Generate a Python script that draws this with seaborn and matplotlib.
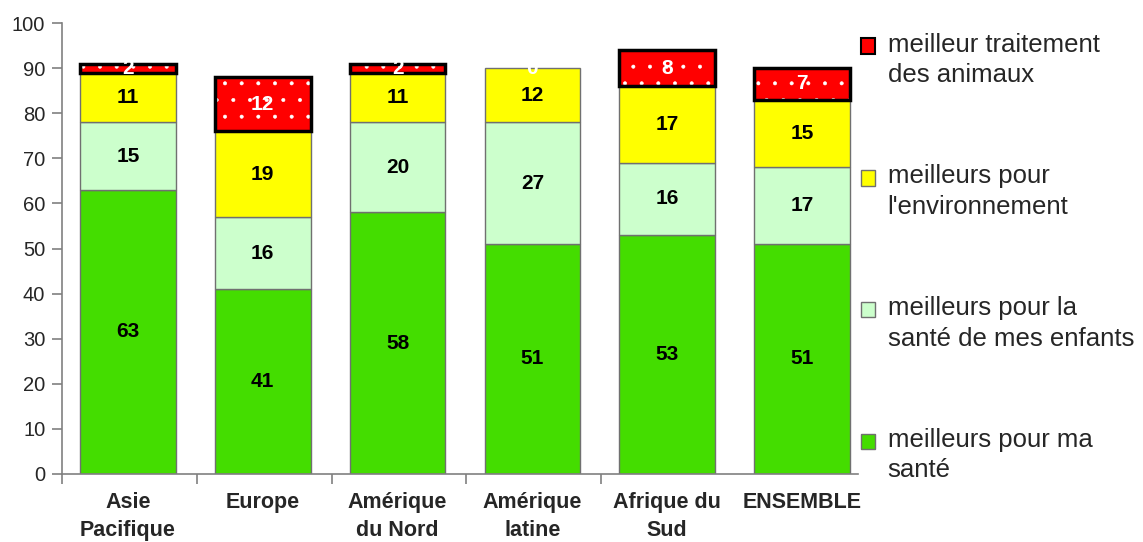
import numpy as np
import pandas as pd
import seaborn as sns
import matplotlib.pyplot as plt
from matplotlib.legend_handler import HandlerPatch

regions = ['Asie\nPacifique', 'Europe', 'Amérique\ndu Nord', 'Amérique\nlatine', 'Afrique du\nSud', 'ENSEMBLE']
ma_sante = [63, 41, 58, 51, 53, 51]
sante_enfants = [15, 16, 20, 27, 16, 17]
environnement = [11, 19, 11, 12, 17, 15]
animaux = [2, 12, 2, 0, 8, 7]

series_names = ['meilleurs pour ma\nsanté', 'meilleurs pour la\nsanté de mes enfants',
                'meilleurs pour\nl\'environnement', 'meilleur traitement\ndes animaux']
series_vals = [ma_sante, sante_enfants, environnement, animaux]
series_colors = ['#44DD00', '#CCFFCC', '#FFFF00', '#FF0000']
label_colors = ['black', 'black', 'black', 'white']

sns.set_style('white')
plt.rcParams['font.family'] = ['Liberation Sans', 'DejaVu Sans']
plt.rcParams['hatch.linewidth'] = 0.4

fig = plt.figure(figsize=(11.43, 5.42), dpi=100)
# axis is cut short on the right, as in the original
ax = fig.add_axes([0.0542, 0.1255, 0.6964, 0.832])

bottom = np.zeros(len(regions))
handles = []
for name, vals, col, lcol in zip(series_names, series_vals, series_colors, label_colors):
    df = pd.DataFrame({'region': regions, 'val': vals})
    is_red = col == '#FF0000'
    sns.barplot(data=df, x='region', y='val', color=col, saturation=1, width=0.71,
                bottom=bottom, edgecolor='white' if is_red else '#707070',
                linewidth=0 if is_red else 1, hatch='.' if is_red else None, ax=ax)
    if is_red:
        sns.barplot(data=df, x='region', y='val', color='black', saturation=1, width=0.71,
                    bottom=bottom, fill=False, linewidth=2.5, ax=ax)
        for p in ax.patches[-len(regions):]:
            if p.get_height() == 0:
                p.set_linewidth(0)
    for i, v in enumerate(vals):
        ax.text(i, bottom[i] + v / 2, str(v), ha='center', va='center',
                fontsize=15, fontweight='bold', color=lcol)
    handles.append(plt.Rectangle((0, 0), 1, 1, facecolor=col,
                                 edgecolor='black' if is_red else '#707070',
                                 linewidth=1.5 if is_red else 1))
    bottom = bottom + np.array(vals)

ax.set_xlim(-0.49, 5.415)
ax.set_ylim(0, 100)
ax.set_yticks(range(0, 101, 10))
ax.set_xlabel('')
ax.set_ylabel('')
for s in ['top', 'right']:
    ax.spines[s].set_visible(False)
for s in ['left', 'bottom']:
    ax.spines[s].set_color('#808080')
    ax.spines[s].set_linewidth(1.2)
ax.tick_params(axis='y', direction='out', length=7, width=1.2, color='#808080', labelsize=14.5, left=True, pad=5)
ax.tick_params(axis='x', which='major', length=0, pad=13, labelsize=15.5)
ax.set_xticks(np.arange(5) - 0.49, minor=True)
ax.tick_params(axis='x', which='minor', direction='out', length=7, width=1.2, color='#808080', bottom=True)
for lbl in ax.get_xticklabels():
    lbl.set_fontweight('bold')
    lbl.set_linespacing(1.45)


def top_square(legend, orig_handle, xdescent, ydescent, width, height, fontsize):
    return plt.Rectangle((-xdescent, -ydescent + 0.55 * fontsize), width, height)


leg = fig.legend(handles[::-1], series_names[::-1], loc='upper left', bbox_to_anchor=(0.753, 0.94),
                 frameon=False, fontsize=18.5, handlelength=0.55, handleheight=0.55,
                 handletextpad=0.5, labelspacing=3.0, borderpad=0, borderaxespad=0,
                 handler_map={plt.Rectangle: HandlerPatch(patch_func=top_square)})
for t in leg.get_texts():
    t.set_linespacing(1.35)

fig.savefig('out.png', dpi=100)
